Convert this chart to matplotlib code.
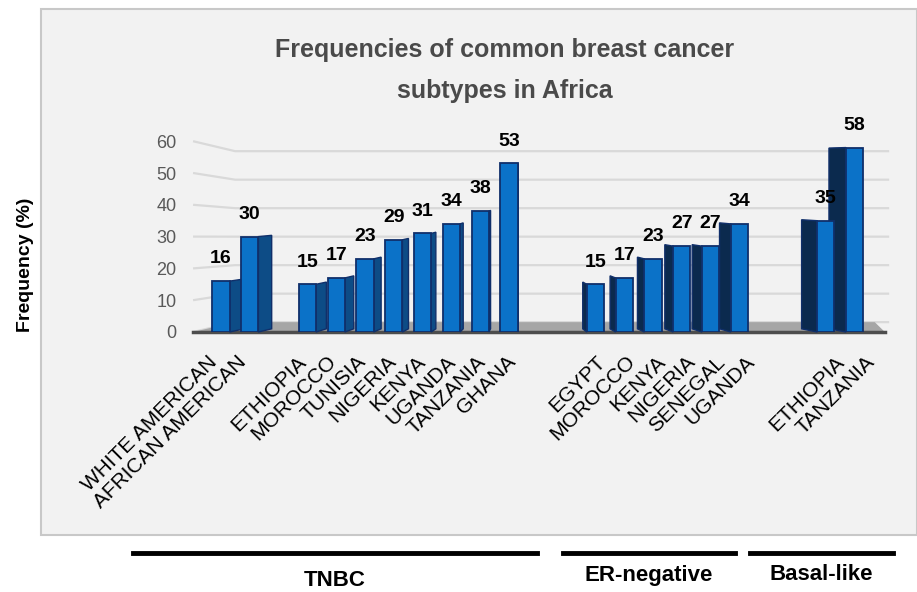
import numpy as np
import matplotlib.pyplot as plt
from matplotlib.patches import Polygon, Rectangle

plt.rcParams['font.family'] = ['Liberation Sans', 'DejaVu Sans']

# countries and frequencies (%) per subtype group
tnbc_labels = ['WHITE AMERICAN', 'AFRICAN AMERICAN', 'ETHIOPIA', 'MOROCCO', 'TUNISIA',
               'NIGERIA', 'KENYA', 'UGANDA', 'TANZANIA', 'GHANA']
tnbc_values = [16, 30, 15, 17, 23, 29, 31, 34, 38, 53]
er_labels = ['EGYPT', 'MOROCCO', 'KENYA', 'NIGERIA', 'SENEGAL', 'UGANDA']
er_values = [15, 17, 23, 27, 27, 34]
basal_labels = ['ETHIOPIA', 'TANZANIA']
basal_values = [35, 58]
groups = ['TNBC', 'ER-negative', 'Basal-like']
yticks = [0, 10, 20, 30, 40, 50, 60]

# slot positions: empty slots separate groups / the two TNBC reference populations
tnbc_x = [0, 1] + list(range(3, 11))
er_x = list(range(13, 19))
basal_x = [21, 22]

labels = tnbc_labels + er_labels + basal_labels
values = tnbc_values + er_values + basal_values
xs = tnbc_x + er_x + basal_x

W, H = 917, 592
fig = plt.figure(figsize=(W / 100, H / 100), dpi=100)
fig.patch.set_facecolor('white')

# chart area box
box = Rectangle((41 / W, 1 - 535 / H), (W - 41) / W, (535 - 9) / H, transform=fig.transFigure,
                facecolor='#f2f2f2', edgecolor='#c8c8c8', lw=1.5, zorder=-5)
fig.patches.append(box)

# axes placement: slot s -> px 221 + 28.8 s, value v -> px 332 - 3.18 v
px0, pxs = 221, 28.8
py0, pys = 332, 3.18
xl, xr = -0.97, 23.6
yb, yt = 0, 62
ax = fig.add_axes([(px0 + xl * pxs) / W, 1 - (py0 - yb * pys) / H,
                   (xr - xl) * pxs / W, (yt - yb) * pys / H])
ax.set_xlim(xl, xr)
ax.set_ylim(yb, yt)
ax.patch.set_alpha(0)
for s in ax.spines.values():
    s.set_visible(False)
ax.tick_params(length=0)
ax.set_xticks([])
ax.set_yticks(yticks)
ax.set_yticklabels([str(t) for t in yticks], fontsize=13, color='#595959')
ax.tick_params(axis='y', pad=12)

# back wall gridlines with a slanted lead-in
back0, back_k = 3.1, 0.896
x_back = 0.49
for g in yticks:
    yb_ = back0 + back_k * g
    ax.plot([xl, x_back, 23.2], [g, yb_, yb_], color='#d9d9d9', lw=1.6, zorder=1,
            clip_on=False, solid_capstyle='butt')

# floor
floor = Polygon([(xl, 0), (23.05, 0), (22.7, back0), (x_back, back0)], closed=True,
                facecolor='#a6a6a6', edgecolor='none', zorder=1.2, clip_on=False)
ax.add_patch(floor)
ax.plot([xl, 23.05], [0, 0], color='#4d4d4d', lw=2.5, zorder=1.3, clip_on=False)

# bars with a perspective side face
vp = 10.2
bw = 0.6
front_c = '#0b72c8'
edge_c = '#102f6a'
for x, v in zip(xs, values):
    d = 0.05 * (vp - x)
    if d >= 0:
        xe = x + bw / 2
        side_c = '#0d4c86'
    else:
        xe = x - bw / 2
        side_c = '#0b2a4e'
    side = Polygon([(xe, 0), (xe + d, 1.0), (xe + d, 1.0 + 0.98 * v), (xe, v)], closed=True,
                   facecolor=side_c, edgecolor=edge_c, lw=1.0, zorder=2, clip_on=False)
    ax.add_patch(side)
    ax.bar(x, v, width=bw, color=front_c, edgecolor=edge_c, linewidth=1.3, zorder=3)
    ax.annotate(str(v), (x, v), xytext=(0, 16), textcoords='offset points',
                ha='center', va='center', fontsize=14, fontweight='bold', color='black',
                zorder=5, annotation_clip=False)

# category labels, spread a little as if seen from the front edge
for x, lab in zip(xs, labels):
    lx = 10.14 + 1.038 * (x - 10.14) - 0.1
    ax.text(lx, -6.3, lab, rotation=45, rotation_mode='anchor', ha='right', va='top',
            fontsize=15, color='black', clip_on=False)

fig.text(505 / W, 1 - 50 / H, 'Frequencies of common breast cancer', ha='center', va='center',
         fontsize=18, fontweight='bold', color='#4a4a4a')
fig.text(505 / W, 1 - 91 / H, 'subtypes in Africa', ha='center', va='center',
         fontsize=18, fontweight='bold', color='#4a4a4a')
fig.text(25 / W, 1 - 265 / H, 'Frequency (%)', rotation=90, ha='center', va='center',
         fontsize=14, fontweight='bold', color='black')

# subtype group brackets below the chart
spans = [(133, 537), (563, 735), (750, 893)]
for (a, b), name in zip(spans, groups):
    fig.add_artist(plt.Line2D([a / W, b / W], [1 - 553 / H, 1 - 553 / H],
                              transform=fig.transFigure, color='black', lw=3.5))
    ty = 580 if name == 'TNBC' else 575
    fig.text((a + b) / 2 / W, 1 - ty / H, name, ha='center', va='center',
             fontsize=16, fontweight='bold', color='black')

fig.savefig('out.png', dpi=100, facecolor='white')
